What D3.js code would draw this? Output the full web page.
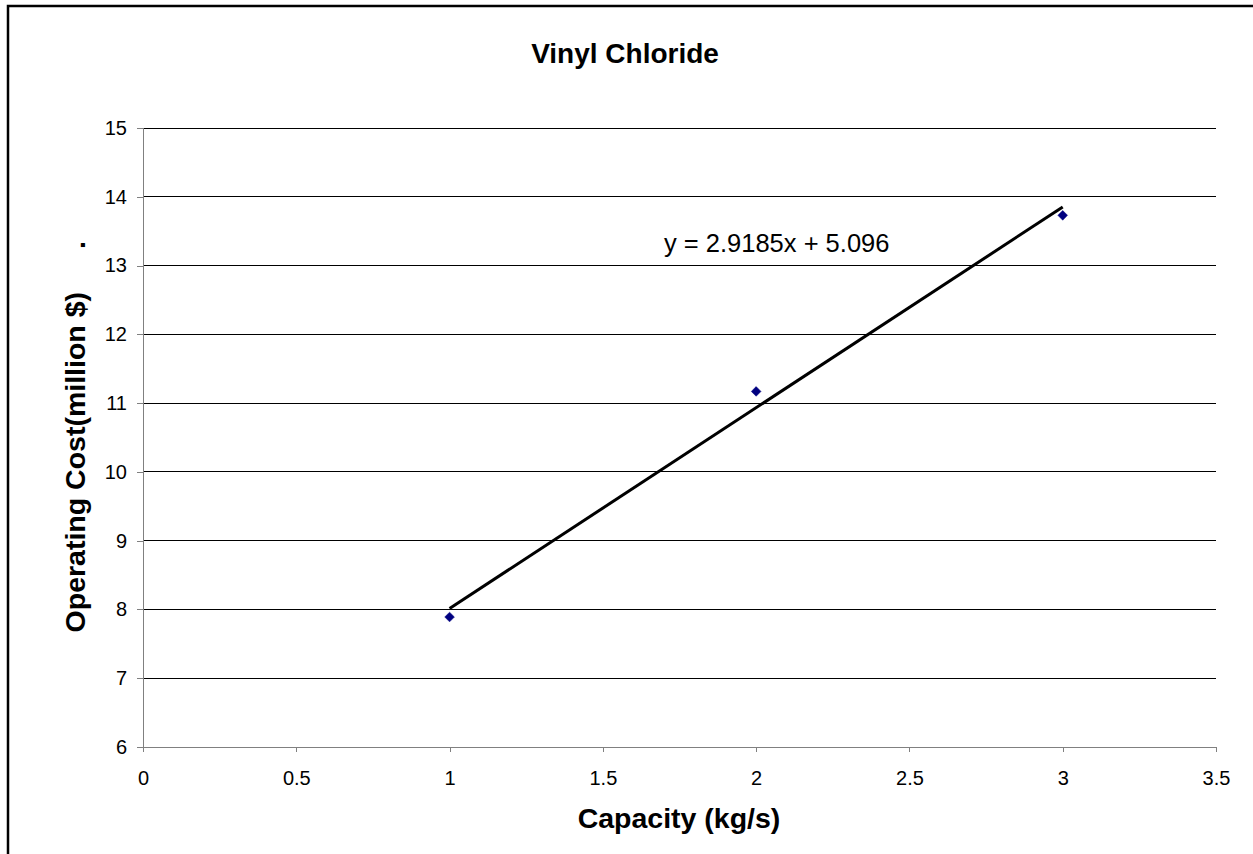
<!DOCTYPE html>
<html><head><meta charset="utf-8">
<script src="https://cdn.jsdelivr.net/npm/d3@7"></script>
<style>body{margin:0;background:#fff;} svg{display:block;font-family:"Liberation Sans",Arial,sans-serif;}</style>
</head><body>
<svg id="c" width="1253" height="854"></svg>
<script>
const capacity = [1, 2, 3];
const operatingCost = [7.89, 11.17, 13.73];
const xTicks = [0, 0.5, 1, 1.5, 2, 2.5, 3, 3.5];
const yTicks = [6, 7, 8, 9, 10, 11, 12, 13, 14, 15];
const slope = 2.9185, intercept = 5.096;
const trendX = [1, 3];

const svg = d3.select("#c");
svg.append("rect").attr("x", 8).attr("y", 6).attr("width", 1300).attr("height", 900)
  .attr("fill", "none").attr("stroke", "#000").attr("stroke-width", 2.5);

const x = d3.scaleLinear().domain([0, 3.5]).range([143, 1216]);
const y = d3.scaleLinear().domain([6, 15]).range([747, 128]);

// gridlines
svg.append("g").selectAll("line").data(yTicks.filter(d => d > 6)).join("line")
  .attr("x1", x(0)).attr("x2", x(3.5)).attr("y1", d => y(d)).attr("y2", d => y(d))
  .attr("stroke", "#000").attr("stroke-width", 1).attr("shape-rendering", "crispEdges");

// axes
const yAxis = svg.append("g").attr("transform", `translate(${x(0)},0)`)
  .call(d3.axisLeft(y).tickValues(yTicks).tickSize(6).tickPadding(10).tickFormat(d3.format("d")));
const xAxis = svg.append("g").attr("transform", `translate(0,${y(6)})`)
  .call(d3.axisBottom(x).tickValues(xTicks).tickSize(5).tickPadding(19).tickFormat(d => String(d)));
[yAxis, xAxis].forEach(a => {
  a.select(".domain").attr("stroke", "#808080").attr("shape-rendering", "crispEdges");
  a.selectAll(".tick line").attr("stroke", "#808080").attr("shape-rendering", "crispEdges");
  a.selectAll(".tick text").attr("font-size", 20).attr("fill", "#000")
    .attr("font-family", "Liberation Sans, Arial, sans-serif");
});

// trendline
svg.append("line")
  .attr("x1", x(trendX[0])).attr("y1", y(slope * trendX[0] + intercept))
  .attr("x2", x(trendX[1])).attr("y2", y(slope * trendX[1] + intercept))
  .attr("stroke", "#000").attr("stroke-width", 3);

// markers
svg.append("g").selectAll("path").data(capacity.map((c, i) => [c, operatingCost[i]])).join("path")
  .attr("d", d3.symbol(d3.symbolDiamond2, 60)())
  .attr("transform", d => `translate(${x(d[0])},${y(d[1])})`)
  .attr("fill", "#000080").attr("stroke", "#000080").attr("stroke-width", 0.5);

// texts
svg.append("text").attr("x", 625).attr("y", 63).attr("text-anchor", "middle")
  .attr("font-size", 28).attr("font-weight", "bold").text("Vinyl Chloride");
svg.append("text").attr("x", 679).attr("y", 828).attr("text-anchor", "middle")
  .attr("font-size", 28.5).attr("font-weight", "bold").text("Capacity (kg/s)");
svg.append("text").attr("transform", "translate(85,292) rotate(-90)").attr("text-anchor", "end")
  .attr("font-size", 28.5).attr("font-weight", "bold")
  .text("Operating Cost(million $)");
svg.append("text").attr("transform", "translate(85,249) rotate(-90)").attr("text-anchor", "start")
  .attr("font-size", 28.5).attr("font-weight", "bold").text(".");
svg.append("text").attr("x", 664).attr("y", 252)
  .attr("font-size", 25.5).text(`y = ${slope}x + ${intercept}`);
</script>
</body></html>
